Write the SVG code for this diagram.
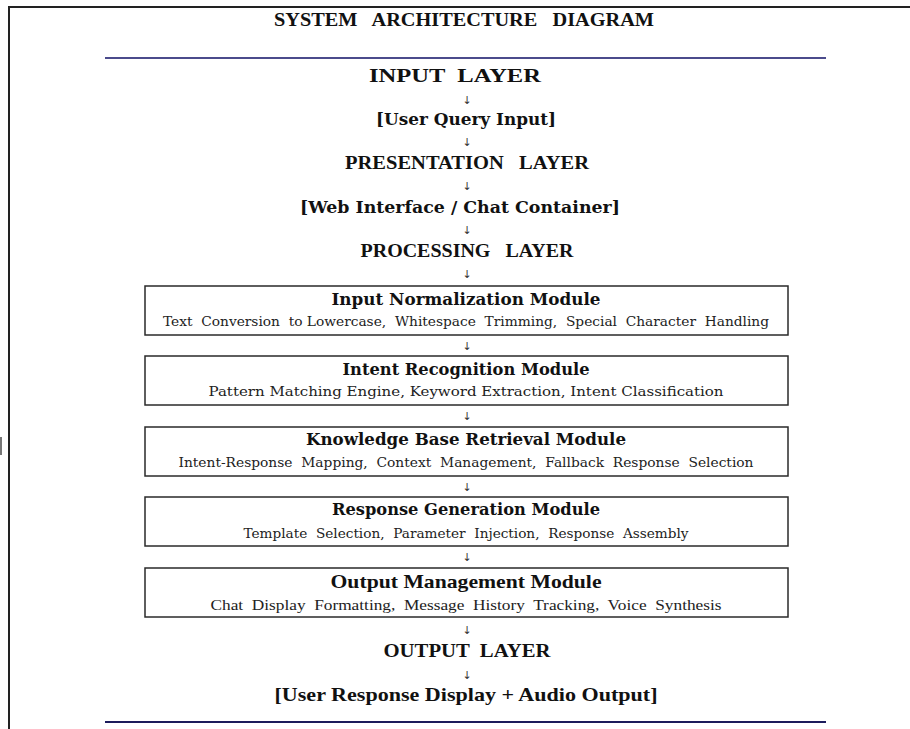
<svg xmlns="http://www.w3.org/2000/svg" width="910" height="729" viewBox="0 0 910 729">
  <style>
    text { white-space: pre; text-anchor: middle; fill: #111; }
    .frame { fill: none; stroke: #222; stroke-width: 2; }
    .rule-top { stroke: #4b4b8c; stroke-width: 2; }
    .rule-bot { stroke: #1c1c5c; stroke-width: 2; }
    .box { fill: #fff; stroke: #2a2a2a; stroke-width: 1.5; }
    .title { font-family: "Liberation Serif", serif; font-weight: bold; font-size: 19px; }
    .layer { font-family: "Liberation Serif", serif; font-weight: bold; font-size: 19px; }
    .item { font-family: "DejaVu Serif", "Liberation Serif", serif; font-weight: bold; font-size: 17px; }
    .mod { font-family: "DejaVu Serif", "Liberation Serif", serif; font-weight: bold; font-size: 16.5px; }
    .sub { font-family: "DejaVu Serif", "Liberation Serif", serif; font-size: 13px; fill: #222; }
    .sub-t { font-family: "Liberation Serif", serif; font-size: 15px; fill: #222; }
    .mod-t { font-family: "Liberation Serif", serif; font-weight: bold; font-size: 19px; }
    .arr { font-family: "DejaVu Sans", sans-serif; font-size: 11px; fill: #333; }
  </style>

  <!-- page frame: top and left edges -->
  <path class="frame" d="M910 7 H9 V729"/>
  <rect x="0" y="437" width="2" height="18" fill="#777"/>

  <text class="title" x="464" y="26" textLength="380" lengthAdjust="spacingAndGlyphs">SYSTEM   ARCHITECTURE   DIAGRAM</text>
  <line class="rule-top" x1="105" y1="58" x2="826" y2="58"/>
  <line class="rule-bot" x1="105" y1="722" x2="826" y2="722"/>

  <g id="input-layer"><text class="layer" x="455" y="82" textLength="172" lengthAdjust="spacingAndGlyphs">INPUT  LAYER</text></g>
  <g id="user-query"><text class="item" x="466" y="125" textLength="180" lengthAdjust="spacingAndGlyphs">[User Query Input]</text></g>
  <g id="presentation-layer"><text class="layer" x="467" y="169" textLength="244" lengthAdjust="spacingAndGlyphs">PRESENTATION   LAYER</text></g>
  <g id="web-interface"><text class="item" x="460" y="213" textLength="320" lengthAdjust="spacingAndGlyphs">[Web Interface / Chat Container]</text></g>
  <g id="processing-layer"><text class="layer" x="467" y="257" textLength="213" lengthAdjust="spacingAndGlyphs">PROCESSING   LAYER</text></g>

  <g id="input-normalization">
    <rect class="box" x="145" y="286" width="643" height="49"/>
    <text class="mod" x="466" y="305" textLength="269" lengthAdjust="spacingAndGlyphs">Input Normalization Module</text>
    <text class="sub" x="466" y="326" textLength="606" lengthAdjust="spacingAndGlyphs">Text  Conversion  to Lowercase,  Whitespace  Trimming,  Special  Character  Handling</text>
  </g>
  <g id="intent-recognition">
    <rect class="box" x="145" y="356" width="643" height="49"/>
    <text class="mod" x="466" y="375" textLength="247" lengthAdjust="spacingAndGlyphs">Intent Recognition Module</text>
    <text class="sub" x="466" y="396" textLength="515" lengthAdjust="spacingAndGlyphs">Pattern Matching Engine, Keyword Extraction, Intent Classification</text>
  </g>
  <g id="knowledge-base">
    <rect class="box" x="145" y="427" width="643" height="49"/>
    <text class="mod" x="466" y="445" textLength="320" lengthAdjust="spacingAndGlyphs">Knowledge Base Retrieval Module</text>
    <text class="sub" x="466" y="467" textLength="575" lengthAdjust="spacingAndGlyphs">Intent-Response  Mapping,  Context  Management,  Fallback  Response  Selection</text>
  </g>
  <g id="response-generation">
    <rect class="box" x="145" y="497" width="643" height="49"/>
    <text class="mod" x="466" y="515" textLength="268" lengthAdjust="spacingAndGlyphs">Response Generation Module</text>
    <text class="sub" x="466" y="538" textLength="445" lengthAdjust="spacingAndGlyphs">Template  Selection,  Parameter  Injection,  Response  Assembly</text>
  </g>
  <g id="output-management">
    <rect class="box" x="145" y="568" width="643" height="49"/>
    <text class="mod-t" x="466" y="588" textLength="271" lengthAdjust="spacingAndGlyphs">Output Management Module</text>
    <text class="sub-t" x="466" y="610" textLength="511" lengthAdjust="spacingAndGlyphs">Chat  Display  Formatting,  Message  History  Tracking,  Voice  Synthesis</text>
  </g>

  <g id="output-layer"><text class="layer" x="467" y="657" textLength="167" lengthAdjust="spacingAndGlyphs">OUTPUT  LAYER</text></g>
  <g id="user-response"><text class="mod-t" x="466" y="701" textLength="383" lengthAdjust="spacingAndGlyphs">[User Response Display + Audio Output]</text></g>

  <g id="connectors">
    <text class="arr" x="467" y="104">↓</text>
    <text class="arr" x="467" y="146">↓</text>
    <text class="arr" x="467" y="190">↓</text>
    <text class="arr" x="467" y="234">↓</text>
    <text class="arr" x="467" y="278">↓</text>
    <text class="arr" x="467" y="350">↓</text>
    <text class="arr" x="467" y="420">↓</text>
    <text class="arr" x="467" y="491">↓</text>
    <text class="arr" x="467" y="561">↓</text>
    <text class="arr" x="467" y="634">↓</text>
    <text class="arr" x="467" y="679">↓</text>
  </g>
</svg>
